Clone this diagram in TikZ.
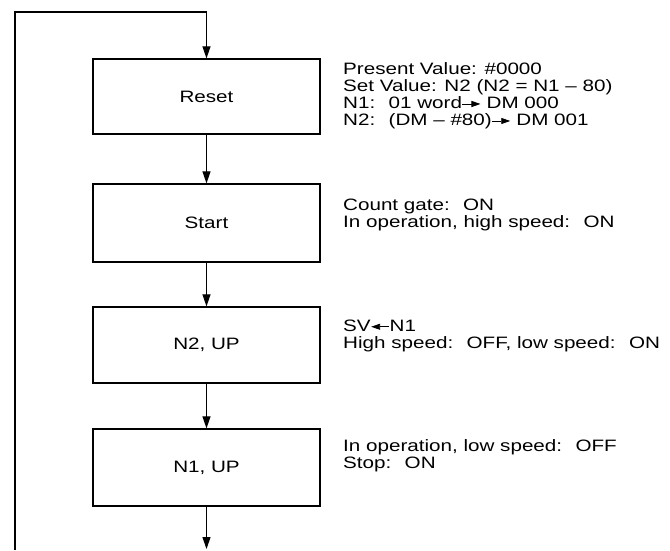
\documentclass[tikz,border=0pt]{standalone}
\usepackage{fontspec}
\setmainfont{Liberation Sans}[FakeStretch=1.25]
\usetikzlibrary{positioning,arrows.meta,calc}

% small arrows used inside the notes
\newcommand{\toarr}{\tikz[baseline=-0.55ex]\draw[line width=0.9pt,-{Triangle[length=9pt,width=6pt]}] (0pt,0pt) -- (18pt,0pt);}
\newcommand{\fromarr}{\tikz[baseline=-0.55ex]\draw[line width=0.9pt,-{Triangle[length=9pt,width=6pt]}] (18pt,0pt) -- (0pt,0pt);}

\begin{document}
\begin{tikzpicture}[x=1pt,y=-1pt,
      stepbox/.style={draw,line width=1.3pt,minimum width=227pt,minimum height=76pt,font=\fontsize{16.5}{17}\selectfont},
      note/.style={anchor=west,align=left,inner sep=0pt,font=\fontsize{16.5}{17}\selectfont},
      flow/.style={line width=1.1pt,-{Triangle[length=12pt,width=8pt]}}]
    \useasboundingbox (0,0) rectangle (670,550);
    \node[stepbox,minimum height=75pt] (reset) at (206.5,96.5) {Reset};
    \node[stepbox,minimum height=78pt] (start) at (206.5,223) {Start};
    \node[stepbox] (up2) at (206.5,345) {N2, UP};
    \node[stepbox,minimum height=77pt] (up1) at (206.5,467.5) {N1, UP};

    \node[note] (resetnote) at (343,96) {Present Value: \#0000\\Set Value: N2 (N2 = N1 -- 80)\\N1:~ 01 word\toarr{} DM 000\\N2:~ (DM -- \#80)\toarr{} DM 001};
    \node[note] (startnote) at (343,215) {Count gate:~ ON\\In operation, high speed:~ ON};
    \node[note] (up2note) at (343,336) {SV\fromarr{}N1\\High speed:~ OFF, low speed:~ ON};
    \node[note] (up1note) at (343,456) {In operation, low speed:~ OFF\\Stop:~ ON};

    \coordinate (loopbot) at (15,550);
    \coordinate (looptop) at (206.5,12);
    \coordinate (exit) at (206.5,549);

    \draw[flow] (loopbot) |- (looptop) -- (reset);
    \draw[flow] (reset) -- (start);
    \draw[flow] (start) -- (up2);
    \draw[flow] (up2) -- (up1);
    \draw[flow] (up1) -- (exit);
  \end{tikzpicture}
\end{document}
